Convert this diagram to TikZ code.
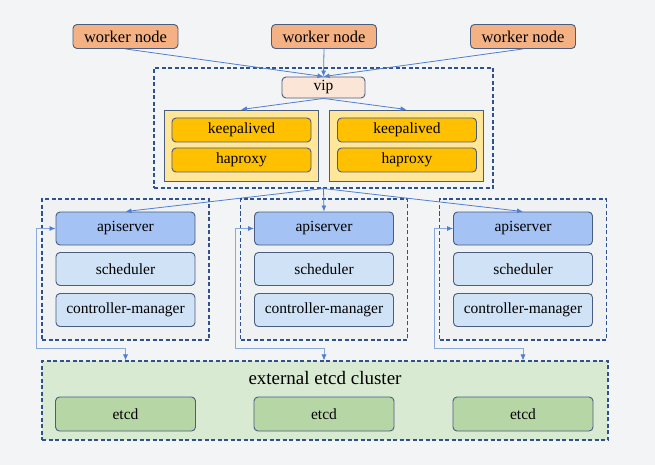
\documentclass[tikz,border=0pt]{standalone}
\usepackage{fontspec}
\setmainfont{Liberation Serif}
\usepackage{tikz}
\usetikzlibrary{arrows.meta}

\definecolor{bgcol}{HTML}{F3F4F5}
\definecolor{edgecol}{HTML}{4A5D7E}
\definecolor{dashcol}{HTML}{2F528F}
\definecolor{linkcol}{HTML}{4F7FD2}
\definecolor{loopcol}{HTML}{8AA8DC}
\definecolor{workerfill}{HTML}{F4B183}
\definecolor{vipfill}{HTML}{FBE5D6}
\definecolor{lbfill}{HTML}{FFE699}
\definecolor{procfill}{HTML}{FFC000}
\definecolor{apifill}{HTML}{A4C2F4}
\definecolor{compfill}{HTML}{CFE2F6}
\definecolor{groupfill}{HTML}{EFF1F3}
\definecolor{clusterfill}{HTML}{D9EAD3}
\definecolor{etcdfill}{HTML}{B7D6A6}

\begin{document}
\begin{tikzpicture}[
  x=1pt, y=-1pt,
  box/.style={draw=edgecol, line width=0.9pt, rounded corners=4pt, inner sep=0pt, font=\fontsize{15.5}{18}\selectfont},
  worker/.style={box, fill=workerfill, minimum width=105pt, minimum height=24pt, font=\fontsize{16.5}{18}\selectfont},
  vip/.style={box, fill=vipfill, minimum width=83pt, minimum height=21pt},
  lbbox/.style={draw=edgecol, line width=0.9pt, fill=lbfill, minimum width=154pt, minimum height=71pt, inner sep=0pt},
  proc/.style={box, fill=procfill, minimum width=139pt, minimum height=24pt},
  api/.style={box, fill=apifill, minimum width=139pt, minimum height=33pt},
  comp/.style={box, fill=compfill, minimum width=139pt, minimum height=33pt},
  etcd/.style={box, fill=etcdfill, minimum width=140pt, minimum height=34pt},
  group/.style={draw=dashcol, line width=1.1pt, dash pattern=on 4pt off 2.5pt, inner sep=0pt},
  link/.style={draw=linkcol, line width=0.8pt, -{Latex[length=6pt,width=5pt]}},
  loopline/.style={draw=loopcol, line width=0.8pt, {Latex[length=6pt,width=5pt,color=linkcol]}-{Latex[length=6pt,width=5pt,color=linkcol]}}
]
\fill[bgcol] (0,0) rectangle (655,465);

% load balancer part
\node[group, minimum width=339pt, minimum height=120pt] (lbgroup) at (323.5,128) {};
\node[vip] (vip) at (323.5,87.5) {vip};
\node[lbbox] (lbl) at (241,145.5) {};
\node[lbbox] (lbr) at (406.5,145.5) {};
\node[proc] (kal) at (241.5,130) {keepalived};
\node[proc] (hal) at (241.5,160) {haproxy};
\node[proc] (kar) at (407,130) {keepalived};
\node[proc] (har) at (407,160) {haproxy};

% etcd cluster
\node[group, fill=clusterfill, minimum width=566pt, minimum height=79pt] (cluster) at (325,400.5) {};
\node[font=\fontsize{19}{22}\selectfont] (title) at (325,378) {external etcd cluster};

% workers, masters, etcd
\foreach \i/\x in {1/125.5, 2/324, 3/523} {
  \node[worker] (worker\i) at (\x,36.5) {worker node};
  \node[group, fill=groupfill, minimum width=167pt, minimum height=141pt] (master\i) at (\x,269.5) {};
  \node[api] (api\i) at (\x,228.5) {apiserver};
  \node[comp] (sched\i) at (\x,269) {scheduler};
  \node[comp] (cm\i) at (\x,310) {controller-manager};
  \node[etcd] (etcd\i) at (\x,414) {etcd};
  \draw[link] (worker\i.south) -- (vip.north);
  \draw[link] (lbgroup.south) -- (api\i.north);
  \draw[loopline] (api\i.west) -- ++(-19,0) -- ++(0,119.5) -| (api\i.south |- cluster.north);
}

\draw[link] (vip.south) -- (lbl.north);
\draw[link] (vip.south) -- (lbr.north);
\end{tikzpicture}
\end{document}
